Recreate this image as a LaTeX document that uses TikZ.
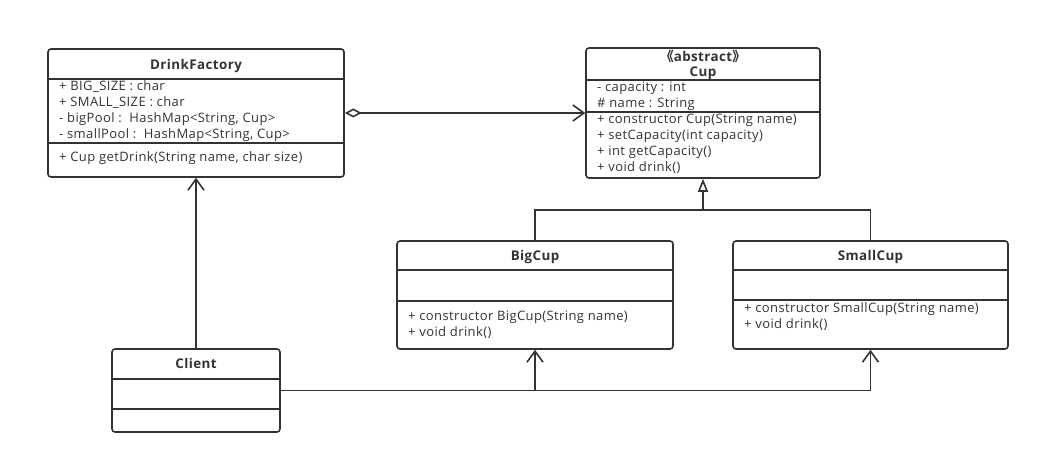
\documentclass[tikz,border=0pt]{standalone}
\usepackage{fontspec}
\setmainfont{Open Sans}[LetterSpace=3]
\newfontfamily\cjk{Noto Sans CJK SC}
\usetikzlibrary{arrows.meta}

\definecolor{umlline}{HTML}{333333}

\tikzset{
	classbox/.style={draw=umlline, line width=1.6pt, rounded corners=3pt, inner sep=0pt},
	members/.style={anchor=north west, inner sep=0pt, align=left, text=umlline,
		font=\fontsize{13}{16}\selectfont},
	title/.style={anchor=base, inner sep=0pt, text=umlline, font=\fontsize{13.4}{15}\selectfont\bfseries},
	link/.style={draw=umlline, line width=1.6pt},
	dep/.style={link, -{Straight Barb[length=11pt, width=16pt, line width=1.6pt]}},
	aggr/.style={link, {Diamond[open, length=17pt, width=9pt, line width=1.6pt]}-{Straight Barb[length=11pt, width=16pt, line width=1.6pt]}},
	inherit/.style={link, -{Triangle[open, length=13pt, width=10pt, line width=1.6pt]}}
}

\begin{document}
\begin{tikzpicture}[x=1pt, y=-1pt]
	\useasboundingbox (0,0) rectangle (1041,465);
	
	% class boxes
	\node[classbox, minimum width=296pt, minimum height=128pt] (factory) at (196,113) {};
	\node[classbox, minimum width=234pt, minimum height=130pt] (cup) at (703,113) {};
	\node[classbox, minimum width=276pt, minimum height=108pt] (bigcup) at (535,295) {};
	\node[classbox, minimum width=275pt, minimum height=108pt] (smallcup) at (870.5,295) {};
	\node[classbox, minimum width=168pt, minimum height=83pt] (client) at (196,390.5) {};
	
	% compartments
	\draw[link] (factory.west |- 0,79) -- (factory.east |- 0,79);
	\draw[link] (factory.west |- 0,143) -- (factory.east |- 0,143);
	\draw[link] (cup.west |- 0,80) -- (cup.east |- 0,80);
	\draw[link] (cup.west |- 0,112) -- (cup.east |- 0,112);
	\draw[link] (bigcup.west |- 0,270) -- (bigcup.east |- 0,270);
	\draw[link] (bigcup.west |- 0,301) -- (bigcup.east |- 0,301);
	\draw[link] (smallcup.west |- 0,270) -- (smallcup.east |- 0,270);
	\draw[link] (smallcup.west |- 0,300) -- (smallcup.east |- 0,300);
	\draw[link] (client.west |- 0,379) -- (client.east |- 0,379);
	\draw[link] (client.west |- 0,409) -- (client.east |- 0,409);
	
	% names
	\node[title] (factoryname) at (196,69.5) {DrinkFactory};
	\node[title] (cupstereo) at (703,61.5) {{\cjk 《}abstract{\cjk 》}};
	\node[title] (cupname) at (703,76.5) {Cup};
	\node[title] (bigcupname) at (535,260.5) {BigCup};
	\node[title] (smallcupname) at (870.5,260.5) {SmallCup};
	\node[title] (clientname) at (196,368.5) {Client};
	
	% members
	\node[members] (factoryattr) at (59,80.5) {+ BIG\_SIZE : char\\+ SMALL\_SIZE : char\\- bigPool :\ \ HashMap<String, Cup>\\- smallPool :\ \ HashMap<String, Cup>};
	\node[members] (factoryops) at (59,151.5) {+ Cup getDrink(String name, char size)};
	\node[members] (cupattr) at (597,81.5) {- capacity : int\\\# name : String};
	\node[members] (cupops) at (597,113.5) {+ constructor Cup(String name)\\+ setCapacity(int capacity)\\+ int getCapacity()\\+ void drink()};
	\node[members] (bigcupops) at (408,310.5) {+ constructor BigCup(String name)\\+ void drink()};
	\node[members] (smallcupops) at (744,302.5) {+ constructor SmallCup(String name)\\+ void drink()};
	
	% relations
	\draw[aggr] (factory.east) -- (cup.west);
	
	\coordinate (joint) at (cup.south |- 0,210);
	\draw[link] (bigcup.north) |- (joint) -| (smallcup.north);
	\draw[inherit] (joint) -- (cup.south);
	
	\draw[dep] (client.north) -- (factory.south);
	\coordinate (fork) at (bigcup.south |- client.east);
	\draw[dep] (client.east) -| (smallcup.south);
	\draw[dep] (fork) -- (bigcup.south);
\end{tikzpicture}
\end{document}
